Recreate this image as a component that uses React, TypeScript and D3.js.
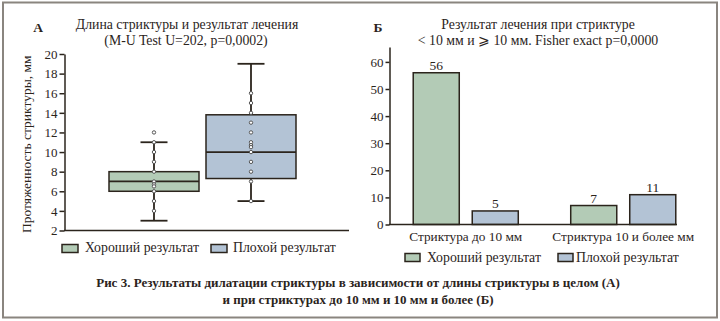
import React, { useEffect, useRef } from 'react';
import * as d3 from 'd3';

// Panel A: box plot of stricture length by outcome
const groups = ['Хороший результат', 'Плохой результат'];
const boxMin = [3, 5];
const boxQ1 = [6, 7.3];
const boxMedian = [7, 10];
const boxQ3 = [8, 13.8];
const boxMax = [11, 19];
const goodPoints = [12, 11, 10, 9, 8, 7, 6.7, 6.5, 6, 5, 4];
const badPoints = [16, 15, 14, 13, 12, 11, 10.7, 10.5, 10, 9, 8, 7, 5];
const boxTicks = [2, 4, 6, 8, 10, 12, 14, 16, 18, 20];

// Panel B: grouped bars
const barCategories = ['Стриктура до 10 мм', 'Стриктура 10 и более мм'];
const goodCounts = [56, 7];
const badCounts = [5, 11];
const barTicks = [0, 10, 20, 30, 40, 50, 60];

const FONT = '"Liberation Serif", "Times New Roman", serif';
const INK = '#2b241c';
const GREEN = '#b3cbb6';
const BLUE = '#b3c3d5';

const App = () => {
  const ref = useRef<SVGSVGElement | null>(null);

  useEffect(() => {
    const svg = d3.select(ref.current);
    svg.selectAll('*').remove();
    const color = d3.scaleOrdinal<string, string>().domain(groups).range([GREEN, BLUE]);

    svg.append('rect')
      .attr('x', 3).attr('y', 2.5).attr('width', 714).attr('height', 315)
      .attr('fill', '#fff').attr('stroke', '#8a857f').attr('stroke-width', 2);

    const text = (x: number, y: number, s: string, opts: any = {}) =>
      svg.append('text')
        .attr('x', x).attr('y', y)
        .attr('text-anchor', opts.anchor || 'middle')
        .attr('font-family', FONT)
        .attr('font-size', opts.size || 13)
        .attr('font-weight', opts.weight || 'normal')
        .attr('fill', INK)
        .text(s);

    // ---------- Panel A ----------
    text(38, 32, 'А', { weight: 'bold', size: 13.5 });
    text(187, 29, 'Длина стриктуры и результат лечения', { size: 13.8 });
    text(186, 45, '(M-U Test U=202, p=0,0002)', { size: 13.8 });

    const yA = d3.scaleLinear().domain([2, 20]).range([230.5, 54]);
    const xA = d3.scaleBand().domain(groups).range([105.5, 299.5])
      .paddingInner(7 / 97).paddingOuter(3.5 / 97);

    const axA = svg.append('g')
      .attr('transform', 'translate(64.5,0)')
      .call(d3.axisLeft(yA).tickValues(boxTicks).tickSize(5).tickSizeOuter(0).tickPadding(2));
    axA.selectAll('path, line').attr('stroke', INK).attr('stroke-width', 1.5);
    axA.selectAll('text').attr('font-family', FONT).attr('font-size', 13).attr('fill', INK);

    svg.append('line')
      .attr('x1', 64).attr('x2', 349).attr('y1', yA(2)).attr('y2', yA(2))
      .attr('stroke', INK).attr('stroke-width', 1.5);

    svg.append('text')
      .attr('transform', `translate(31,${(yA(2) + yA(20)) / 2 + 2}) rotate(-90)`)
      .attr('text-anchor', 'middle')
      .attr('font-family', FONT).attr('font-size', 13.5).attr('fill', INK)
      .text('Протяженность стриктуры, мм');

    const pointsByGroup = [goodPoints, badPoints];
    groups.forEach((g, i) => {
      const x0 = xA(g)!;
      const w = xA.bandwidth();
      const cx = x0 + w / 2;
      const cap = w * 0.3;
      const gg = svg.append('g');
      gg.append('line').attr('x1', cx).attr('x2', cx)
        .attr('y1', yA(boxMax[i])).attr('y2', yA(boxMin[i]))
        .attr('stroke', INK).attr('stroke-width', 1.8);
      [boxMax[i], boxMin[i]].forEach(v => {
        gg.append('line').attr('x1', cx - cap / 2).attr('x2', cx + cap / 2)
          .attr('y1', yA(v)).attr('y2', yA(v))
          .attr('stroke', INK).attr('stroke-width', 1.8);
      });
      gg.append('rect')
        .attr('x', x0).attr('y', yA(boxQ3[i]))
        .attr('width', w).attr('height', yA(boxQ1[i]) - yA(boxQ3[i]))
        .attr('fill', color(g)).attr('stroke', INK).attr('stroke-width', 1.5);
      gg.append('line').attr('x1', x0).attr('x2', x0 + w)
        .attr('y1', yA(boxMedian[i])).attr('y2', yA(boxMedian[i]))
        .attr('stroke', INK).attr('stroke-width', 1.8);
      gg.selectAll('circle')
        .data(pointsByGroup[i])
        .enter().append('circle')
        .attr('cx', cx).attr('cy', d => yA(d)).attr('r', 1.7)
        .attr('fill', '#fff').attr('stroke', '#555').attr('stroke-width', 1);
    });

    // legend A
    const legA = [[62, 85], [211, 233]];
    groups.forEach((g, i) => {
      svg.append('rect').attr('x', legA[i][0]).attr('y', 244.5).attr('width', 16).attr('height', 8)
        .attr('fill', color(g)).attr('stroke', INK).attr('stroke-width', 1.5);
      text(legA[i][1], 252, g, { anchor: 'start', size: 13.8 });
    });

    // ---------- Panel B ----------
    text(378, 32, 'Б', { weight: 'bold', size: 13.5 });
    text(538, 29, 'Результат лечения при стриктуре', { size: 13.8 });
    text(538, 45, '< 10 мм и ⩾ 10 мм. Fisher exact p=0,0000', { size: 13.8 });

    const yB = d3.scaleLinear().domain([0, 65.5]).range([224.5, 47]);
    const xB0 = d3.scaleBand().domain(barCategories).range([387, 702])
      .paddingInner(0.333).paddingOuter(0.1665);
    const xB1 = d3.scaleBand().domain(groups).range([0, xB0.bandwidth()]).paddingInner(0.22);

    const axB = svg.append('g')
      .attr('transform', 'translate(389.5,0)')
      .call(d3.axisLeft(yB).tickValues(barTicks).tickSize(4).tickSizeOuter(0).tickPadding(2));
    axB.selectAll('path, line').attr('stroke', INK).attr('stroke-width', 1.5);
    axB.selectAll('text').attr('font-family', FONT).attr('font-size', 13).attr('fill', INK);

    const tableB = barCategories.map((c, i) => ({ cat: c, values: [goodCounts[i], badCounts[i]] }));
    const grp = svg.append('g').selectAll('g')
      .data(tableB)
      .enter().append('g')
      .attr('transform', d => `translate(${xB0(d.cat)},0)`);
    const bars = grp.selectAll('g')
      .data(d => groups.map((key, j) => ({ key, value: d.values[j] })))
      .enter().append('g');
    bars.append('rect')
      .attr('x', d => xB1(d.key)!)
      .attr('y', d => yB(d.value))
      .attr('width', xB1.bandwidth())
      .attr('height', d => yB(0) - yB(d.value))
      .attr('fill', d => color(d.key))
      .attr('stroke', INK).attr('stroke-width', 1.5);
    bars.append('text')
      .attr('x', d => xB1(d.key)! + xB1.bandwidth() / 2)
      .attr('y', d => yB(d.value) - 3)
      .attr('text-anchor', 'middle')
      .attr('font-family', FONT).attr('font-size', 13.5).attr('fill', INK)
      .text(d => d.value);

    svg.append('line')
      .attr('x1', 389).attr('x2', 677).attr('y1', yB(0)).attr('y2', yB(0))
      .attr('stroke', INK).attr('stroke-width', 1.5);

    barCategories.forEach(c => {
      text(xB0(c)! + xB0.bandwidth() / 2, 241, c, { size: 13.3 });
    });

    const legB = [[405, 427], [558, 576]];
    groups.forEach((g, i) => {
      svg.append('rect').attr('x', legB[i][0]).attr('y', 253.5).attr('width', 15).attr('height', 8)
        .attr('fill', color(g)).attr('stroke', INK).attr('stroke-width', 1.5);
      text(legB[i][1], 262, g, { anchor: 'start', size: 13.8 });
    });

    // ---------- caption ----------
    text(358, 287, 'Рис 3. Результаты дилатации стриктуры в зависимости от длины стриктуры в целом (А)', { weight: 'bold' });
    text(358, 304, 'и при стриктурах до 10 мм и 10 мм и более (Б)', { weight: 'bold' });
  }, []);

  return (
    <svg ref={ref} width={720} height={321}
      style={{ position: 'absolute', left: 0, top: 0, display: 'block' }} />
  );
};

export default App;
